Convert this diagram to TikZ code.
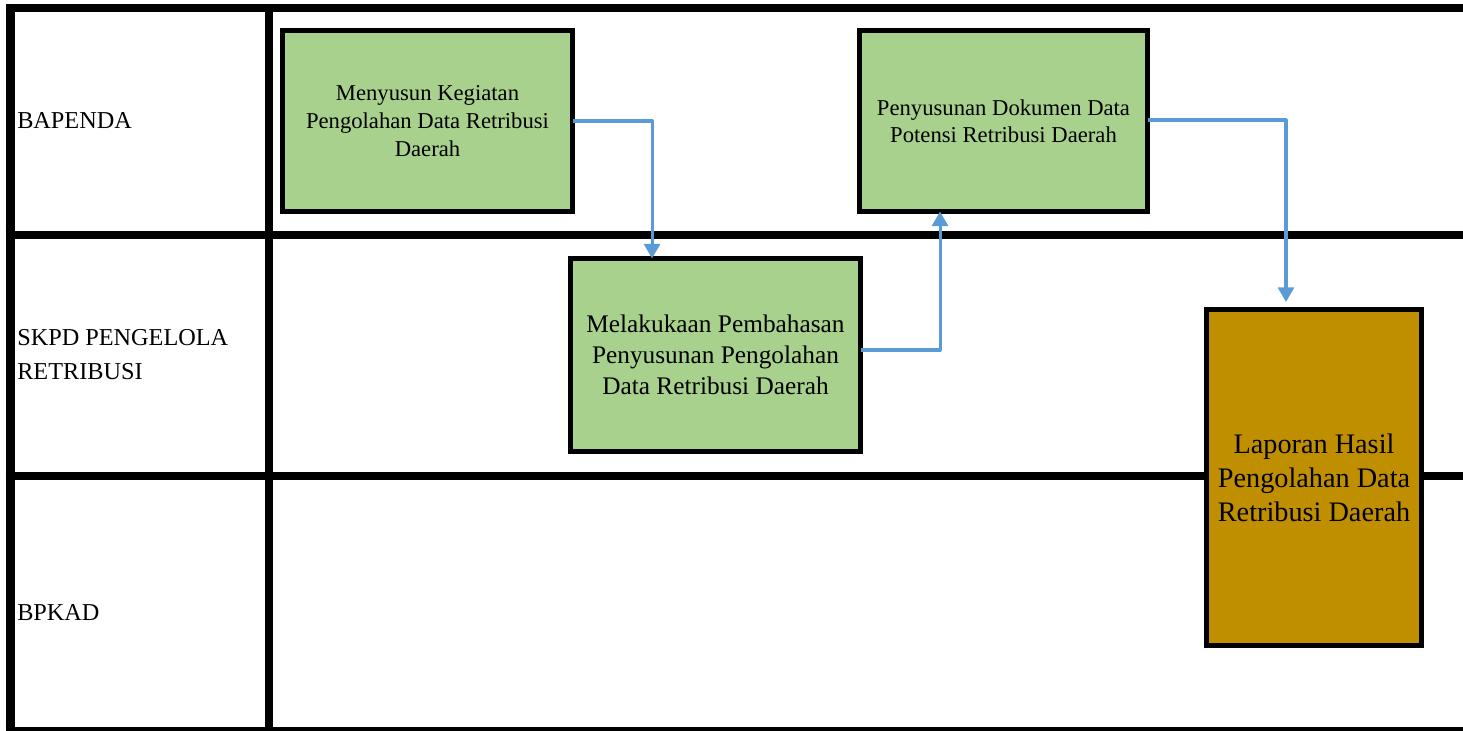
\documentclass[tikz,border=0pt]{standalone}
\usepackage{fontspec}
\setmainfont{Liberation Serif}
\usetikzlibrary{arrows.meta}
\definecolor{boxgreen}{HTML}{A9D18E}
\definecolor{boxgold}{HTML}{BF8F00}
\definecolor{arrblue}{HTML}{5B9BD5}
\tikzset{
  grid/.style={line width=6pt, black},
  stepbox/.style={draw=black, line width=4pt, fill=boxgreen, rectangle, align=center, inner sep=0pt, outer sep=0pt},
  lane/.style={anchor=west, inner sep=0pt, align=left, font=\fontsize{18.2pt}{25.5pt}\selectfont},
  arr/.style={draw=arrblue, line width=2.3pt, line join=round, -{Triangle[length=11pt,width=12pt]}}
}
\begin{document}
\begin{tikzpicture}[x=0.75pt,y=-0.75pt]
\useasboundingbox (0,0) rectangle (1463,731);
% grid
\draw[grid] (5.5,8) -- (1463,8);
\draw[grid] (5.5,235) -- (1463,235);
\draw[grid] (5.5,475.5) -- (1463,475.5);
\draw[line width=3.5pt] (5.5,729.3) -- (1463,729.3);
\draw[line width=6.75pt] (10,4) -- (10,731);
\draw[grid] (269,4) -- (269,731);
% lane labels
\node[lane] (l1) at (17,121) {BAPENDA};
\node[lane] (l2) at (17,355) {SKPD PENGELOLA\\RETRIBUSI};
\node[lane] (l3) at (17,613) {BPKAD};
% boxes
\node[stepbox, minimum width=217.5pt, minimum height=135.75pt, font=\fontsize{17pt}{21pt}\selectfont] (b1) at (427.5,121)
  {Menyusun Kegiatan\\Pengolahan Data Retribusi\\Daerah};
\node[stepbox, minimum width=217.5pt, minimum height=144.75pt, font=\fontsize{19pt}{23.3pt}\selectfont] (b2) at (715.5,355)
  {Melakukaan Pembahasan\\Penyusunan Pengolahan\\Data Retribusi Daerah};
\node[stepbox, minimum width=216pt, minimum height=135.75pt, font=\fontsize{17pt}{20.5pt}\selectfont] (b3) at (1003.5,121)
  {Penyusunan Dokumen Data\\Potensi Retribusi Daerah};
\node[stepbox, fill=boxgold, minimum width=161.25pt, minimum height=252pt, font=\fontsize{21.2pt}{25.5pt}\selectfont] (b4) at (1314,477.5)
  {Laporan Hasil\\Pengolahan Data\\Retribusi Daerah};
% connectors
\draw[arr] (b1.east) -| ([xshift=-47.6pt]b2.north);
\draw[arr] ([yshift=3.75pt]b2.east) -| ([xshift=-47.6pt]b3.south);
\draw[arr] ([yshift=0.75pt]b3.east) -| ([xshift=-21pt,yshift=5.6pt]b4.north);
\end{tikzpicture}
\end{document}
